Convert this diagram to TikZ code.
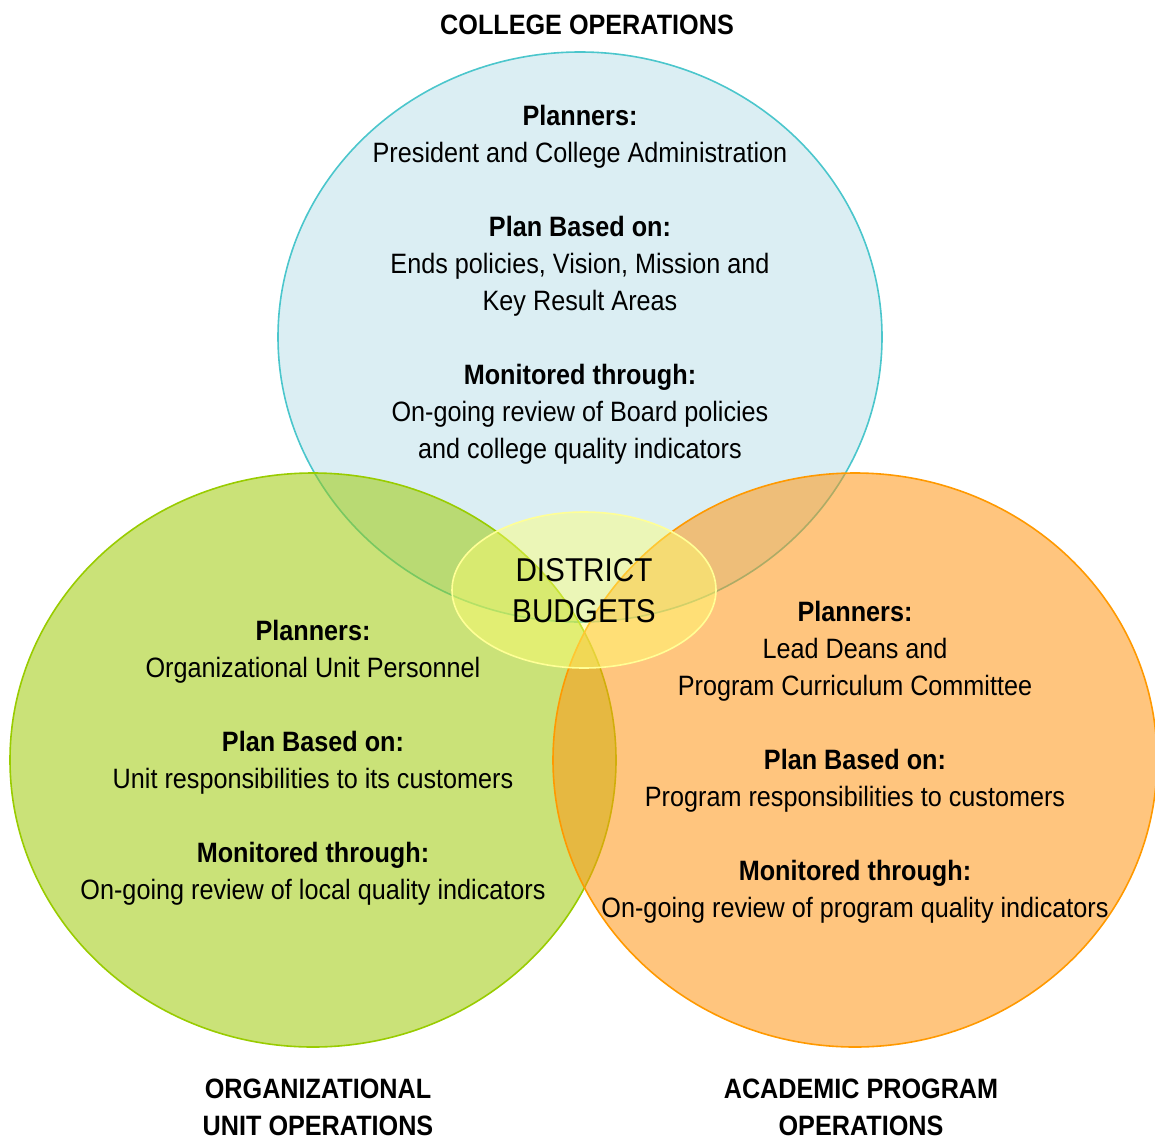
\documentclass[tikz,border=0pt]{standalone}
\usepackage{fontspec}
\setmainfont{Liberation Sans}[FakeStretch=0.9]
\definecolor{collegeline}{RGB}{75,198,204}
\definecolor{collegefill}{RGB}{183,222,232}
\definecolor{unitline}{RGB}{153,204,0}
\definecolor{unitfill}{RGB}{158,202,10}
\definecolor{programline}{RGB}{255,153,0}
\definecolor{programfill}{RGB}{255,150,20}
\definecolor{budgetline}{RGB}{255,255,150}
\definecolor{budgetfill}{RGB}{255,255,110}
\begin{document}
\begin{tikzpicture}[x=1pt, y=-1pt,
        venn/.style={line width=1.6pt, fill opacity=0.55},
        body/.style={align=center, font=\fontsize{28}{37}\selectfont, inner sep=0pt},
        title/.style={align=center, font=\fontsize{28}{37}\selectfont\bfseries, inner sep=0pt}]
        \useasboundingbox (0, 0) rectangle (1155, 1140);

        % College circle
        \draw [venn, draw=collegeline, fill=collegefill, fill opacity=0.5] (580, 337) ellipse [x radius=302, y radius=285];
        % Unit circle
        \draw [venn, draw=unitline, fill=unitfill] (313, 760) ellipse [x radius=303, y radius=287];
        % Program circle
        \draw [venn, draw=programline, fill=programfill] (855, 760) ellipse [x radius=302, y radius=287];
        % District budgets
        \draw [line width=1.6pt, draw=budgetline, fill=budgetfill, fill opacity=0.45] (584, 590) ellipse [x radius=132, y radius=78];

        \node [align=center, font=\fontsize{33}{41}\selectfont, inner sep=0pt] (budgets) at (584, 591) {DISTRICT\\BUDGETS};

        % Circle texts
        \node [body] (college) at (580, 284.5) {\textbf{Planners:}\\President and College Administration\\[37pt]
            \textbf{Plan Based on:}\\Ends policies, Vision, Mission and\\Key Result Areas\\[37pt]
            \textbf{Monitored through:}\\On-going review of Board policies\\and college quality indicators};
        \node [body] (unit) at (313, 762.5) {\textbf{Planners:}\\Organizational Unit Personnel\\[37pt]
            \textbf{Plan Based on:}\\Unit responsibilities to its customers\\[37pt]
            \textbf{Monitored through:}\\On-going review of local quality indicators};
        \node [body] (program) at (855, 762.5) {\textbf{Planners:}\\Lead Deans and\\Program Curriculum Committee\\[37pt]
            \textbf{Plan Based on:}\\Program responsibilities to customers\\[37pt]
            \textbf{Monitored through:}\\On-going review of program quality indicators};

        % Titles
        \node [title] (collegetitle) at (587, 25) {COLLEGE OPERATIONS};
        \node [title] (unittitle) at (318, 1107) {ORGANIZATIONAL\\UNIT OPERATIONS};
        \node [title] (programtitle) at (861, 1107) {ACADEMIC PROGRAM\\OPERATIONS};
    \end{tikzpicture}
\end{document}
